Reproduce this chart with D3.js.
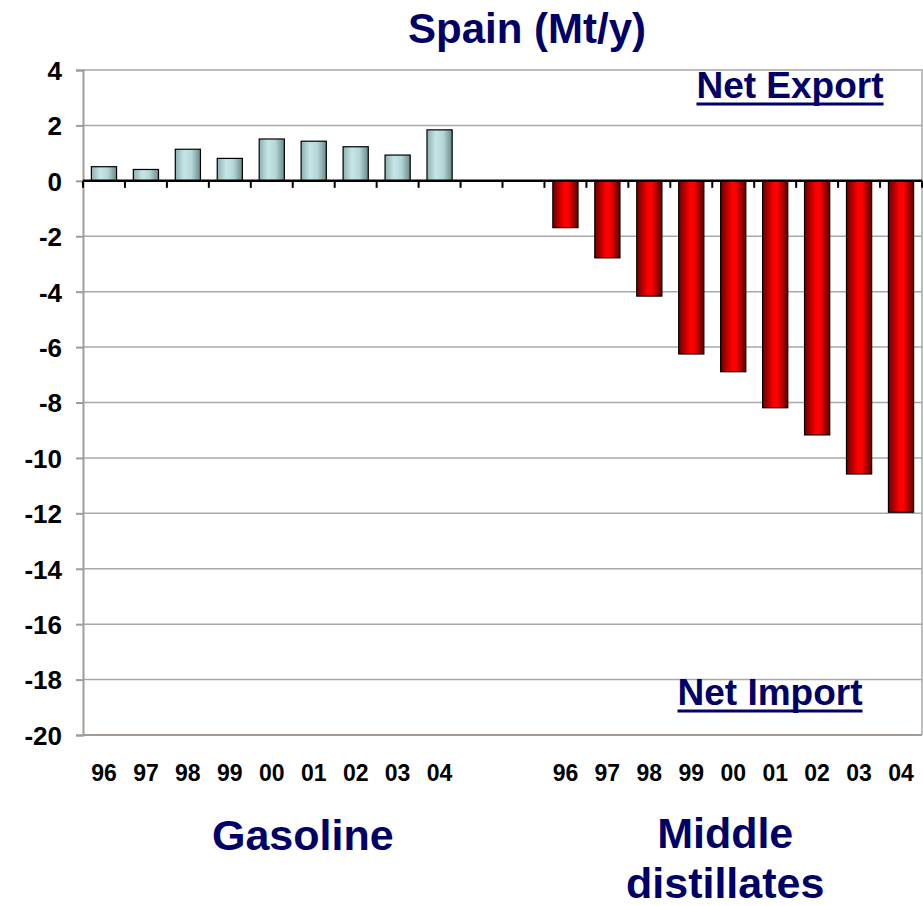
<!DOCTYPE html>
<html>
<head>
<meta charset="utf-8">
<script src="https://cdn.jsdelivr.net/npm/d3@7"></script>
<style>
  html, body { margin: 0; padding: 0; background: #fff; }
  svg { display: block; }
  text { font-family: "Liberation Sans", Arial, Helvetica, sans-serif; font-weight: bold; }
</style>
</head>
<body>
<svg id="chart" width="923" height="906"></svg>
<script>
// Spain net trade balance by product, Mt/y (positive = net export, negative = net import)
const years = ["96", "97", "98", "99", "00", "01", "02", "03", "04"];
const gasoline = [0.51, 0.41, 1.14, 0.81, 1.51, 1.43, 1.23, 0.93, 1.84];
const middleDistillates = [-1.69, -2.78, -4.16, -6.25, -6.89, -8.19, -9.17, -10.58, -11.96];
const gapSlots = 2;                 // empty category slots between the two product groups
const yTicks = [4, 2, 0, -2, -4, -6, -8, -10, -12, -14, -16, -18, -20];
const groupNames = ["Gasoline", ["Middle", "distillates"]];

// one slot per category along the x axis
const slots = [];
years.forEach((y, i) => slots.push({ key: "g" + i, label: y, value: gasoline[i], group: 0 }));
for (let i = 0; i < gapSlots; i++) slots.push({ key: "gap" + i, label: "", value: null, group: -1 });
years.forEach((y, i) => slots.push({ key: "m" + i, label: y, value: middleDistillates[i], group: 1 }));

const svg = d3.select("#chart");
const plot = { left: 83, right: 922, top: 70, bottom: 735 };

const x = d3.scaleBand()
  .domain(slots.map(d => d.key))
  .range([plot.left, plot.right])
  .paddingInner(0.4)
  .paddingOuter(0.2);

const y = d3.scaleLinear()
  .domain([d3.min(yTicks), d3.max(yTicks)])
  .range([plot.bottom, plot.top]);

// gradients giving the bars their cylindrical shading
const defs = svg.append("defs");
function gradient(id, stops) {
  const g = defs.append("linearGradient").attr("id", id)
    .attr("x1", "0%").attr("x2", "100%").attr("y1", "0%").attr("y2", "0%");
  stops.forEach(([o, c]) => g.append("stop").attr("offset", o).attr("stop-color", c));
}
gradient("gasGrad", [["0%", "#8fb0b0"], ["35%", "#c6e6e6"], ["65%", "#b4d6d6"], ["100%", "#6a8a8a"]]);
gradient("midGrad", [["0%", "#6a0000"], ["45%", "#ff0000"], ["60%", "#ff0000"], ["100%", "#5a0000"]]);

// horizontal gridlines
svg.append("g")
  .selectAll("line")
  .data(yTicks.filter(t => t !== 0 && t !== d3.max(yTicks) && t !== d3.min(yTicks)))
  .join("line")
  .attr("x1", plot.left).attr("x2", plot.right)
  .attr("y1", d => y(d)).attr("y2", d => y(d))
  .attr("stroke", "#a8a8a8").attr("stroke-width", 1.5);

// plot frame: top and right sides, bottom edge
svg.append("path")
  .attr("d", `M${plot.left},${y(d3.max(yTicks))}H${plot.right}V${y(d3.min(yTicks))}`)
  .attr("fill", "none").attr("stroke", "#a8a8a8").attr("stroke-width", 1.5);
svg.append("line")
  .attr("x1", plot.left).attr("x2", plot.right)
  .attr("y1", y(d3.min(yTicks))).attr("y2", y(d3.min(yTicks)))
  .attr("stroke", "#a39c96").attr("stroke-width", 2);

// y axis (plain hyphen for negative labels)
const yAxis = svg.append("g")
  .attr("transform", `translate(${plot.left},0)`)
  .call(d3.axisLeft(y).tickValues(yTicks).tickSize(7).tickPadding(14).tickFormat(d => String(d)));
yAxis.select(".domain").attr("stroke", "#a39c96").attr("stroke-width", 2);
yAxis.selectAll(".tick line").attr("stroke", "#a39c96").attr("stroke-width", 2);
yAxis.selectAll(".tick text")
  .attr("fill", "#000").attr("font-size", 26).attr("dy", "0.36em")
  .style("font-family", "'Liberation Sans', Arial, sans-serif").style("font-weight", "bold");

// bars
const data = slots.filter(d => d.value !== null);
svg.append("g")
  .selectAll("rect")
  .data(data)
  .join("rect")
  .attr("x", d => x(d.key))
  .attr("width", x.bandwidth())
  .attr("y", d => y(Math.max(0, d.value)))
  .attr("height", d => Math.abs(y(d.value) - y(0)))
  .attr("fill", d => d.group === 0 ? "url(#gasGrad)" : "url(#midGrad)")
  .attr("stroke", "#000").attr("stroke-width", 1.2);

// zero line with category boundary ticks
svg.append("line")
  .attr("x1", plot.left).attr("x2", plot.right)
  .attr("y1", y(0)).attr("y2", y(0))
  .attr("stroke", "#000").attr("stroke-width", 2.5);
svg.append("g")
  .selectAll("line")
  .data(d3.range(slots.length + 1))
  .join("line")
  .attr("x1", i => plot.left + i * x.step()).attr("x2", i => plot.left + i * x.step())
  .attr("y1", y(0)).attr("y2", y(0) + 7)
  .attr("stroke", "#000").attr("stroke-width", 2);

// category (year) labels
const xAxis = svg.append("g")
  .attr("transform", `translate(0,${plot.bottom + 30})`)
  .call(d3.axisBottom(x).tickSize(0).tickPadding(0).tickFormat(k => slots.find(s => s.key === k).label));
xAxis.select(".domain").remove();
xAxis.selectAll(".tick text")
  .attr("fill", "#000").attr("font-size", 23).attr("dy", "0.71em")
  .style("font-family", "'Liberation Sans', Arial, sans-serif").style("font-weight", "bold");

const navy = "#000066";

// title
svg.append("text")
  .attr("x", 527).attr("y", 43)
  .attr("text-anchor", "middle")
  .attr("font-size", 42).attr("fill", navy)
  .text("Spain (Mt/y)");

// direction annotations
function underlined(label, cx, baseline) {
  const t = svg.append("text")
    .attr("x", cx).attr("y", baseline)
    .attr("text-anchor", "middle")
    .attr("font-size", 37).attr("fill", navy)
    .text(label);
  const w = t.node().getComputedTextLength();
  svg.append("line")
    .attr("x1", cx - w / 2).attr("x2", cx + w / 2)
    .attr("y1", baseline + 6).attr("y2", baseline + 6)
    .attr("stroke", navy).attr("stroke-width", 3);
}
underlined("Net Export", 790, 98);
underlined("Net Import", 770, 705);

// group labels centred under each block of bars
function groupCenter(g) {
  const ks = slots.filter(s => s.group === g).map(s => s.key);
  return (x(ks[0]) + x(ks[ks.length - 1]) + x.bandwidth()) / 2;
}
svg.append("text")
  .attr("x", groupCenter(0) + 31).attr("y", 850)
  .attr("text-anchor", "middle").attr("font-size", 43).attr("fill", navy)
  .text(groupNames[0]);
const mid = svg.append("text")
  .attr("x", groupCenter(1) - 8).attr("y", 848)
  .attr("text-anchor", "middle").attr("font-size", 43).attr("fill", navy);
groupNames[1].forEach((line, i) => {
  mid.append("tspan").attr("x", groupCenter(1) - 8).attr("dy", i === 0 ? 0 : 50).text(line);
});
</script>
</body>
</html>
